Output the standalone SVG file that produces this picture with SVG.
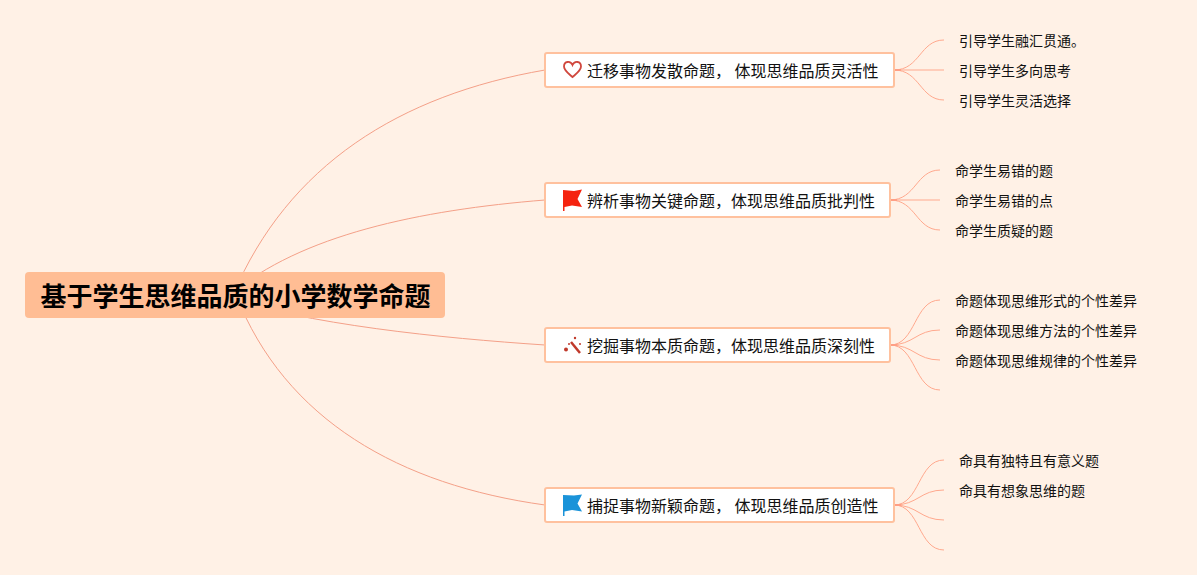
<svg xmlns="http://www.w3.org/2000/svg" width="1197" height="575" viewBox="0 0 1197 575">
<style>
text{font-family:"Noto Sans CJK SC","Noto Sans",sans-serif;fill:#111}
.root{font-size:26px;font-weight:700;fill:#000}
.bt{font-size:16px}
.st{font-size:14px}
.box{fill:#fff;stroke:#FFC19E;stroke-width:2}
.main{fill:none;stroke:#F4A088;stroke-width:1}
.sub{fill:none;stroke:#FFA98E;stroke-width:1}
.stub{fill:none;stroke:#FF9F85;stroke-width:2}
</style>
<rect width="1197" height="575" fill="#FFF1E6"/>
<g id="connectors">
<path class="main" d="M233,295C288,165 400,95 545,70"/>
<path class="main" d="M230,295C300,235 420,210 545,200"/>
<path class="main" d="M215,295C310,325 440,338 545,345"/>
<path class="main" d="M236,295C285,420 400,485 545,505"/>
<path class="sub" d="M894,70C920,70 920,40 944,40"/>
<path class="sub" d="M894,70H944"/>
<path class="sub" d="M894,70C920,70 920,100 944,100"/>
<path class="stub" d="M894,70H901"/>
<path class="sub" d="M890,200C916,200 916,170 940,170"/>
<path class="sub" d="M890,200H940"/>
<path class="sub" d="M890,200C916,200 916,230 940,230"/>
<path class="stub" d="M890,200H897"/>
<path class="sub" d="M890,345C916,345 914,300 940,300"/>
<path class="sub" d="M890,345C914,345 916,330 940,330"/>
<path class="sub" d="M890,345C914,345 916,360 940,360"/>
<path class="sub" d="M890,345C916,345 914,390 940,390"/>
<path class="stub" d="M890,345H897"/>
<path class="sub" d="M894,505C920,505 918,460 944,460"/>
<path class="sub" d="M894,505C918,505 920,490 944,490"/>
<path class="sub" d="M894,505C918,505 920,520 944,520"/>
<path class="sub" d="M894,505C920,505 918,550 944,550"/>
<path class="stub" d="M894,505H901"/>
</g>
<g id="root">
<rect x="25" y="272" width="420" height="46" rx="4" fill="#FFBD94"/>
<text class="root" x="40.500" y="306">基于学生思维品质的小学数学命题</text>
</g>
<g id="branch1">
<rect class="box" x="545" y="53" width="349" height="34" rx="2"/>
<path d="M572.500,77C568,73 564,70.500 564,66.500C564,61 570.500,60.500 572.500,65C574.500,60.500 581,61 581,66.500C581,70.500 577,73 572.500,77Z" fill="none" stroke="#D0473D" stroke-width="1.800"/>
<text class="bt" x="587" y="77" xml:space="preserve">迁移事物发散命题， 体现思维品质灵活性</text>
</g>
<g id="branch2">
<rect class="box" x="545" y="183" width="345" height="34" rx="2"/>
<path d="M563,190L574,191L582,189.500L577.500,199L582,207L572,205.500L564.500,207V211H563Z" fill="#F5230F"/>
<text class="bt" x="587" y="207">辨析事物关键命题，体现思维品质批判性</text>
</g>
<g id="branch3">
<rect class="box" x="545" y="328" width="345" height="34" rx="2"/>
<path d="M571,342L580,353" stroke="#C0392B" stroke-width="2.500" fill="none"/>
<circle cx="566" cy="349.500" r="2" fill="#C0392B"/><circle cx="575" cy="338" r="1.200" fill="#C0392B"/><circle cx="569" cy="344" r="1" fill="#C0392B"/><circle cx="580" cy="344" r="1" fill="#C0392B"/>
<text class="bt" x="587" y="352">挖掘事物本质命题，体现思维品质深刻性</text>
</g>
<g id="branch4">
<rect class="box" x="545" y="488" width="349" height="34" rx="2"/>
<path d="M563,495L574,495.500L582,494.500L577.500,503.500L582,511.500L572,510L564.500,511.500V516H563Z" fill="#1A93D9"/>
<text class="bt" x="587" y="512" xml:space="preserve">捕捉事物新颖命题， 体现思维品质创造性</text>
</g>
<g id="leaf1a"><text class="st" x="959" y="46">引导学生融汇贯通。</text></g>
<g id="leaf1b"><text class="st" x="959" y="76">引导学生多向思考</text></g>
<g id="leaf1c"><text class="st" x="959" y="106">引导学生灵活选择</text></g>
<g id="leaf2a"><text class="st" x="955" y="176">命学生易错的题</text></g>
<g id="leaf2b"><text class="st" x="955" y="206">命学生易错的点</text></g>
<g id="leaf2c"><text class="st" x="955" y="236">命学生质疑的题</text></g>
<g id="leaf3a"><text class="st" x="955" y="306">命题体现思维形式的个性差异</text></g>
<g id="leaf3b"><text class="st" x="955" y="336">命题体现思维方法的个性差异</text></g>
<g id="leaf3c"><text class="st" x="955" y="366">命题体现思维规律的个性差异</text></g>
<g id="leaf4a"><text class="st" x="959" y="466">命具有独特且有意义题</text></g>
<g id="leaf4b"><text class="st" x="959" y="496">命具有想象思维的题</text></g>
</svg>
